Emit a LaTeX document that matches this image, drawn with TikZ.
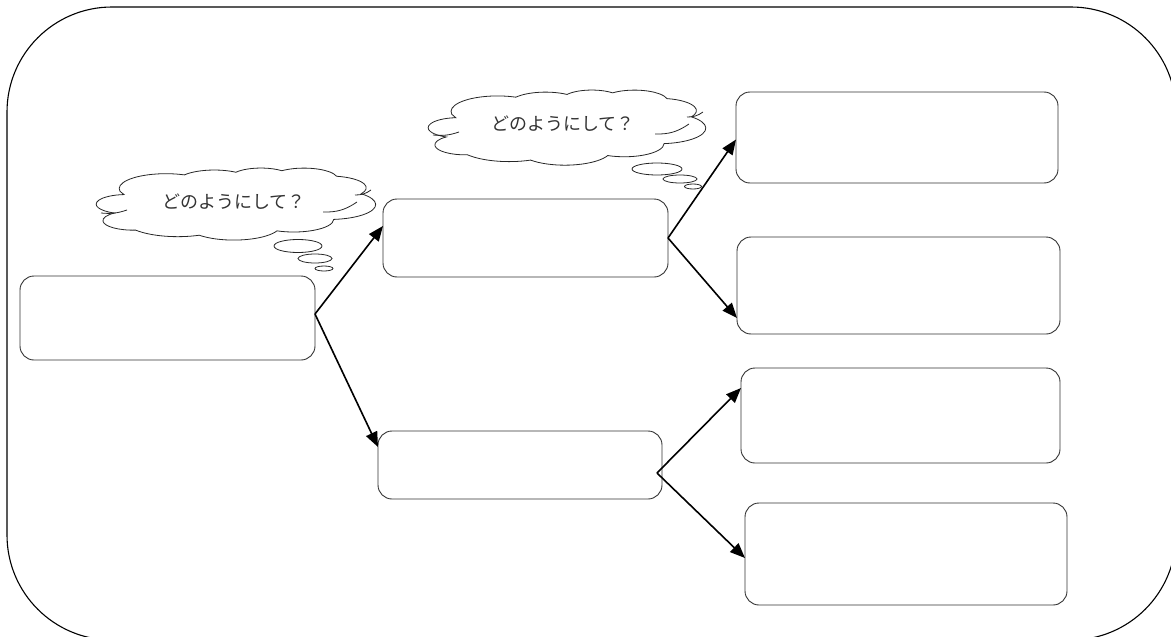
\documentclass[tikz,border=0pt]{standalone}
\usepackage{fontspec}
\newfontfamily\jp{Noto Sans CJK JP}
\usetikzlibrary{arrows.meta}
\newcommand\officecloud{%
 (39,143.7)
 arc[x radius=67.53, y radius=91.90, start angle=-190.49, delta angle=123.78]
 arc[x radius=53.33, y radius=72.67, start angle=-144.10, delta angle=89.95]
 arc[x radius=43.65, y radius=59.45, start angle=-145.81, delta angle=99.72]
 arc[x radius=48.57, y radius=65.95, start angle=-130.99, delta angle=117.24]
 arc[x radius=53.33, y radius=72.73, start angle=-78.71, delta angle=109.03]
 arc[x radius=67.75, y radius=92.20, start angle=-46.27, delta angle=130.27]
 arc[x radius=57.85, y radius=78.67, start angle=0.625, delta angle=114.03]
 arc[x radius=67.52, y radius=92.15, start angle=22.45, delta angle=115.17]
 arc[x radius=77.20, y radius=105.43, start angle=66.24, delta angle=75.71]
 arc[x radius=43.60, y radius=59.18, start angle=-274.94, delta angle=146.74]
 arc[x radius=43.45, y radius=59.45, start angle=-246.83, delta angle=152.52]
 -- cycle}
% inner strokes, in px relative to the cloud's top left corner
\newcommand\cloudinner{%
 (8,45) to[bend right=12] (34,42)
 (230,44) to[bend right=18] (264,34)
 (262,27) to[bend right=18] (278,22)}
\begin{document}
\begin{tikzpicture}[x=1pt,y=-1pt,
  frame/.style={draw=black, line width=1.1pt, rounded corners=105pt},
  box/.style={draw=black!80, line width=0.9pt, fill=white, rounded corners=14pt,
    inner sep=0pt, outer sep=0pt, anchor=north west},
  arr/.style={line width=1.6pt, -{Triangle[length=15pt,width=12pt]}},
  cloudline/.style={draw=black!85, line width=0.8pt},
  bubble/.style={draw=black!85, line width=0.8pt, fill=white},
  say/.style={font=\jp\fontsize{18}{18}\selectfont, text=black!80}]
\useasboundingbox (0,0) rectangle (1171,637);
\begin{scope}
  \clip (0,0) rectangle (1171,637);
  \draw[frame] (7,7) rectangle (1176,640);
\end{scope}
% clouds
\begin{scope}[shift={(93,168)}, x=1pt, y=1pt, xscale=299/432, yscale=-70/432]
  \draw[cloudline, fill=white] \officecloud;
\end{scope}
\draw[cloudline, shift={(93,168)}] \cloudinner;
\begin{scope}[shift={(425,90)}, x=1pt, y=1pt, xscale=297/432, yscale=-73/432]
  \draw[cloudline, fill=white] \officecloud;
\end{scope}
\draw[cloudline, shift={(425,90)}] \cloudinner;
\draw[bubble] (298,246) ellipse[x radius=24, y radius=6.5];
\draw[bubble] (315,258.5) ellipse[x radius=17, y radius=4.5];
\draw[bubble] (324,268.5) ellipse[x radius=9, y radius=2.5];
\draw[bubble] (657,169) ellipse[x radius=25, y radius=6];
\draw[bubble] (680,179) ellipse[x radius=17, y radius=4];
\draw[bubble] (693,186.5) ellipse[x radius=8.5, y radius=2.5];
\node[say] (q1) at (234,202) {どのようにして？};
\node[say] (q2) at (563,124) {どのようにして？};
% boxes
\node[box, minimum width=295pt, minimum height=84pt] (A) at (20,276) {};
\node[box, minimum width=285pt, minimum height=78pt] (B) at (383,199) {};
\node[box, minimum width=284pt, minimum height=68pt] (C) at (378,431) {};
\node[box, minimum width=322pt, minimum height=91pt] (D) at (736,92) {};
\node[box, minimum width=323pt, minimum height=97pt] (E) at (737,237) {};
\node[box, minimum width=319pt, minimum height=95pt] (F) at (741,368) {};
\node[box, minimum width=322pt, minimum height=102pt] (G) at (745,503) {};
% connectors
\coordinate (sA) at ([yshift=4pt]A.east);
\coordinate (sC) at ([xshift=-5pt,yshift=-8pt]C.east);
\draw[arr] (sA) -- ([yshift=12pt]B.west);
\draw[arr] (sA) -- ([yshift=18pt]C.west);
\draw[arr] (B.east) -- ([yshift=-2pt]D.west);
\draw[arr] (B.east) -- ([yshift=-32.5pt]E.west);
\draw[arr] (sC) -- ([yshift=27.5pt]F.west);
\draw[arr] (sC) -- ([yshift=-4pt]G.west);
\end{tikzpicture}
\end{document}
